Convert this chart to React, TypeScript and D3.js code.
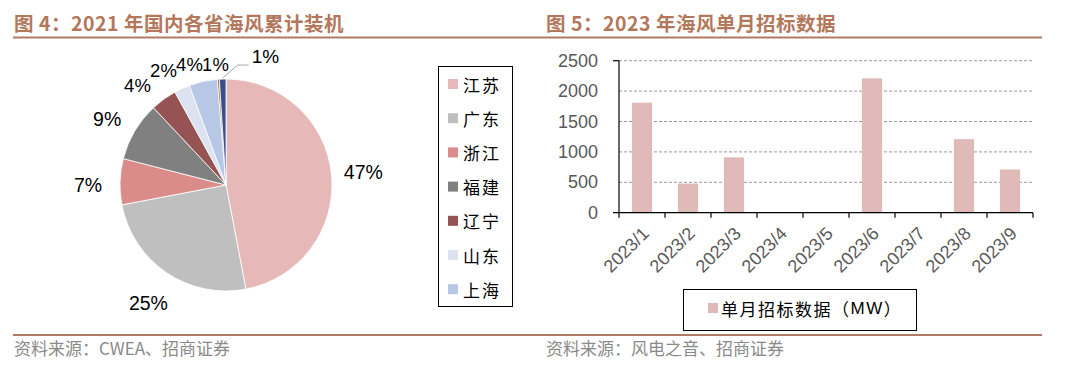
import React from 'react';
import * as d3 from 'd3';

// left: 2021 offshore wind cumulative installed capacity by province
const provinces = ['江苏', '广东', '浙江', '福建', '辽宁', '山东', '上海', '河北', '天津'];
const shares = [47, 25, 7, 9, 4, 2.4, 4.3, 0.3, 1.0];
const shareLabels = ['47%', '25%', '7%', '9%', '4%', '2%', '4%', '1%', '1%'];
const sliceColors = ['#e6b9b8', '#bfbfbf', '#d98c89', '#808080', '#965353', '#dce2f0', '#b7c7e6', '#b0643c', '#37508c'];
const legendCount = 7;

// right: monthly tender volume 2023
const months = ['2023/1', '2023/2', '2023/3', '2023/4', '2023/5', '2023/6', '2023/7', '2023/8', '2023/9'];
const tenders = [1810, 480, 910, 0, 0, 2210, 0, 1210, 710];
const yTicks = [0, 500, 1000, 1500, 2000, 2500];

const TITLE = '#b3775c';
const RULE = '#b07b64';
const GREY = '#595959';
const SANS = '"Liberation Sans", Arial, sans-serif';
const CJK = '"Noto Sans CJK SC", sans-serif';

function Pie() {
  const cx = 226, cy = 185, r = 106;
  const pie = d3.pie<number>().sort(null).value(d => d);
  const arcs = pie(shares);
  const arc = d3.arc<d3.PieArcDatum<number>>().innerRadius(0).outerRadius(r);
  const pt = (a: number, rad: number) => [cx + Math.sin(a) * rad, cy - Math.cos(a) * rad];

  // label positions: big slices radial, small ones pushed apart along the top
  let prevX = -Infinity;
  const labelPos = arcs.map((a, i) => {
    const mid = (a.startAngle + a.endAngle) / 2;
    if (shares[i] >= 5) {
      const p = pt(mid, 138);
      return [p[0], p[1] + (mid > Math.PI ? 4 : 0)];
    }
    const p = pt(mid - 0.1, 133);
    const x = Math.max(p[0], prevX + 26);
    prevX = x;
    return [x, Math.max(p[1], cy - 121)];
  });

  return (
    <g>
      <g transform={`translate(${cx},${cy})`}>
        {arcs.map((a, i) => (
          <path key={i} d={arc(a) || ''} fill={sliceColors[i]} stroke="#fff" strokeWidth={0.8} />
        ))}
      </g>
      {arcs.map((a, i) => {
        const mid = (a.startAngle + a.endAngle) / 2;
        const last = i === arcs.length - 1;
        if (last) {
          const [x0, y0] = pt(mid, r + 1);
          const x1 = x0 + 15, y1 = y0 - 13;
          return (
            <g key={i}>
              <polyline points={`${x0},${y0} ${x1},${y1} ${x1 + 11},${y1}`} fill="none" stroke="#a6a6a6" strokeWidth={1} />
              <text x={x1 + 14} y={y1 - 9} dominantBaseline="central" fontFamily={SANS} fontSize={19} fill="#000">{shareLabels[i]}</text>
            </g>
          );
        }
        const [x, y] = labelPos[i];
        return (
          <text key={i} x={x} y={y} textAnchor="middle" dominantBaseline="central"
            fontFamily={SANS} fontSize={shares[i] >= 5 ? 19.5 : 18.5} fill="#000">{shareLabels[i]}</text>
        );
      })}
      <rect x={438.5} y={66.5} width={74} height={240} fill="#fff" stroke="#000" strokeWidth={1} />
      {provinces.slice(0, legendCount).map((p, i) => {
        const y = 84 + i * 34.2;
        return (
          <g key={p}>
            <rect x={448} y={y - 5} width={10} height={10} fill={sliceColors[i]} />
            <text x={463} y={y} dominantBaseline="central" fontFamily={CJK} fontSize={17}
              letterSpacing={2} fill="#000">{p}</text>
          </g>
        );
      })}
    </g>
  );
}

function Bars() {
  const left = 619, right = 1033, top = 60.7, bottom = 212.7;
  const x = d3.scaleBand<string>().domain(months).range([left, right]).paddingInner(0.56).paddingOuter(0.28);
  const xb = d3.scaleBand<string>().domain(months).range([left, right]);
  const y = d3.scaleLinear().domain([0, 2500]).range([bottom, top]);

  return (
    <g>
      {yTicks.filter(t => t > 0).map(t => (
        <line key={t} x1={left} x2={right} y1={y(t)} y2={y(t)} stroke="#9a9a9a" strokeWidth={1} strokeDasharray="3,2" />
      ))}
      {months.map((m, i) => (
        <rect key={m} x={x(m)} y={y(tenders[i])} width={x.bandwidth()} height={bottom - y(tenders[i])} fill="#e0b9b9" />
      ))}
      <line x1={left} x2={left} y1={top} y2={bottom} stroke="#000" strokeWidth={1.2} />
      <line x1={left - 6} x2={left} y1={top} y2={top} stroke="#000" strokeWidth={1.2} />
      <line x1={left - 6} x2={right} y1={bottom} y2={bottom} stroke="#000" strokeWidth={1.2} />
      {months.map(m => (
        <line key={'t' + m} x1={(xb(m) as number)} x2={(xb(m) as number)} y1={bottom} y2={bottom + 5} stroke="#000" strokeWidth={1.2} />
      ))}
      <line x1={right} x2={right} y1={bottom} y2={bottom + 5} stroke="#000" strokeWidth={1.2} />
      {yTicks.map(t => (
        <text key={t} x={left - 21} y={y(t)} textAnchor="end" dominantBaseline="central"
          fontFamily={SANS} fontSize={18} fill={GREY}>{t}</text>
      ))}
      {months.map(m => {
        const cxm = (xb(m) as number) + xb.bandwidth() / 2 + 8;
        const cym = bottom + 22;
        return (
          <text key={'l' + m} x={cxm} y={cym} textAnchor="end" transform={`rotate(-45,${cxm},${cym})`}
            fontFamily={SANS} fontSize={18} fill={GREY}>{m}</text>
        );
      })}
      <rect x={683.5} y={289.5} width={233} height={41} fill="#fff" stroke="#000" strokeWidth={1} />
      <rect x={708} y={303} width={10} height={10} fill="#e0b9b9" />
      <text x={721} y={308} dominantBaseline="central" fontFamily={CJK} fontSize={17} letterSpacing={1.5} fill="#000">
        单月招标数据（<tspan fontFamily={SANS}>MW</tspan>）
      </text>
    </g>
  );
}

export default function App() {
  return (
    <svg width={1078} height={366} style={{ position: 'absolute', left: 0, top: 0, background: '#fff' }}>
      <text x={14} y={31} fontFamily={CJK} fontWeight="bold" fontSize={19.5} letterSpacing={0.5} fill={TITLE}>
        图 4：2021 年国内各省海风累计装机
      </text>
      <text x={546} y={31} fontFamily={CJK} fontWeight="bold" fontSize={19.5} letterSpacing={0.5} fill={TITLE}>
        图 5：2023 年海风单月招标数据
      </text>
      <line x1={13} x2={1042} y1={37.5} y2={37.5} stroke={RULE} strokeWidth={2} />
      <Pie />
      <Bars />
      <line x1={13} x2={1042} y1={335} y2={335} stroke={RULE} strokeWidth={2} />
      <text x={14} y={355} fontFamily={CJK} fontSize={17} fill="#8a8a8a">资料来源：CWEA、招商证券</text>
      <text x={546} y={355} fontFamily={CJK} fontSize={17} fill="#8a8a8a">资料来源：风电之音、招商证券</text>
    </svg>
  );
}
